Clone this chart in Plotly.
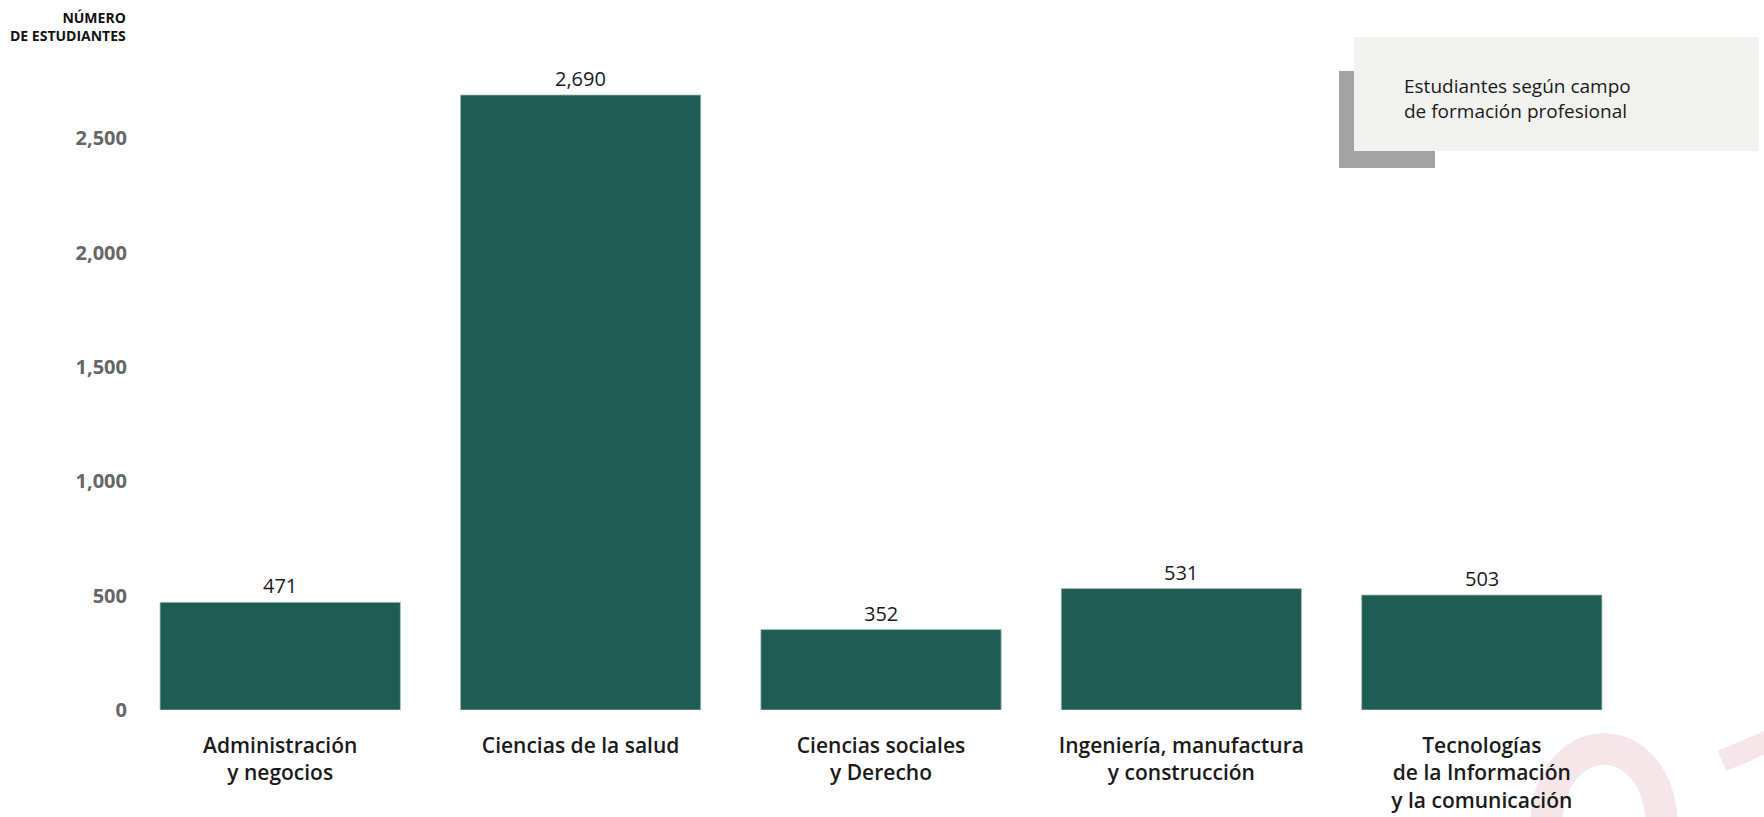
import plotly.graph_objects as go

categories = [
    "Administración<br>y negocios",
    "Ciencias de la salud",
    "Ciencias sociales<br>y Derecho",
    "Ingeniería, manufactura<br>y construcción",
    "Tecnologías<br>de la Información<br>y la comunicación",
]
students = [471, 2690, 352, 531, 503]
value_labels = ["471", "2,690", "352", "531", "503"]
y_tick_vals = [0, 500, 1000, 1500, 2000, 2500]
y_tick_text = ["0", "500", "1,000", "1,500", "2,000", "2,500"]

W, H = 1764, 817
L, R, T, B = 130, 132, 40, 107
PW = W - L - R
PH = H - T - B
px_per_unit = (710 - 138.4) / 2500
y_top = PH / px_per_unit

FONT = "Open Sans"
BAR = "#1f5c53"
PINK = "#f6e6ea"


def px(x):
    return (x - L) / PW


def py(y):
    return (H - B - y) / PH


fig = go.Figure()
fig.add_trace(go.Bar(
    x=list(range(len(categories))),
    y=students,
    marker=dict(color=BAR, line=dict(color="#a9c4bf", width=0.8)),
    width=0.8,
    hoverinfo="skip",
))

annotations = []
for i, (v, t) in enumerate(zip(students, value_labels)):
    annotations.append(dict(
        x=i, y=v, xref="x", yref="y", text=t, showarrow=False,
        yanchor="bottom", yshift=1,
        font=dict(family=FONT, size=20, color="#1a1a1a"),
    ))

annotations.append(dict(
    x=px(128), y=py(6), xref="paper", yref="paper",
    text="<b>NÚMERO<br>DE ESTUDIANTES</b>", showarrow=False,
    xanchor="right", yanchor="top", align="right",
    font=dict(family=FONT, size=14, color="#111111"),
))

annotations.append(dict(
    x=px(1402), y=py(99), xref="paper", yref="paper",
    text="Estudiantes según campo<br>de formación profesional",
    showarrow=False, xanchor="left", yanchor="middle", align="left",
    font=dict(family=FONT, size=19, color="#1a1a1a"),
))

shapes = [
    # decorative watermark arcs (behind everything)
    dict(type="path", xref="paper", yref="paper", layer="below",
         path=(f"M {px(1546)},{py(830)} C {px(1546)},{py(722)} "
               f"{px(1662)},{py(722)} {px(1662)},{py(830)}"),
         line=dict(color=PINK, width=32)),
    dict(type="line", xref="paper", yref="paper", layer="below",
         x0=px(1722), y0=py(761), x1=px(1780), y1=py(736),
         line=dict(color=PINK, width=22)),
    # legend box
    dict(type="rect", xref="paper", yref="paper", layer="above",
         x0=px(1339), x1=px(1435), y0=py(168), y1=py(71),
         fillcolor="#a3a3a3", line=dict(width=0)),
    dict(type="rect", xref="paper", yref="paper", layer="above",
         x0=px(1354), x1=px(1759), y0=py(151), y1=py(37),
         fillcolor="#f2f2f1", line=dict(width=0)),
]

fig.update_layout(
    width=W, height=H,
    margin=dict(l=L, r=R, t=T, b=B, pad=0, autoexpand=False),
    paper_bgcolor="white", plot_bgcolor="rgba(0,0,0,0)",
    showlegend=False,
    bargap=0.2,
    annotations=annotations,
    shapes=shapes,
    xaxis=dict(
        tickmode="array", tickvals=list(range(len(categories))), ticktext=categories,
        range=[-0.5, len(categories) - 0.5],
        showgrid=False, zeroline=False, showline=False, ticks="",
        tickfont=dict(family=FONT, size=21, color="#1a1a1a", weight=600),
        ticklabelstandoff=21, automargin=False,
    ),
    yaxis=dict(
        range=[0, y_top],
        tickmode="array", tickvals=y_tick_vals, ticktext=y_tick_text,
        showgrid=False, zeroline=False, showline=False, ticks="",
        tickfont=dict(family=FONT, size=20, color="#666666", weight="bold"),
        ticklabelstandoff=2, automargin=False,
    ),
)

fig.write_html(
    "out.html",
    config={"displayModeBar": False},
    post_script="document.body.style.margin='0px';document.body.style.overflow='hidden';",
)
